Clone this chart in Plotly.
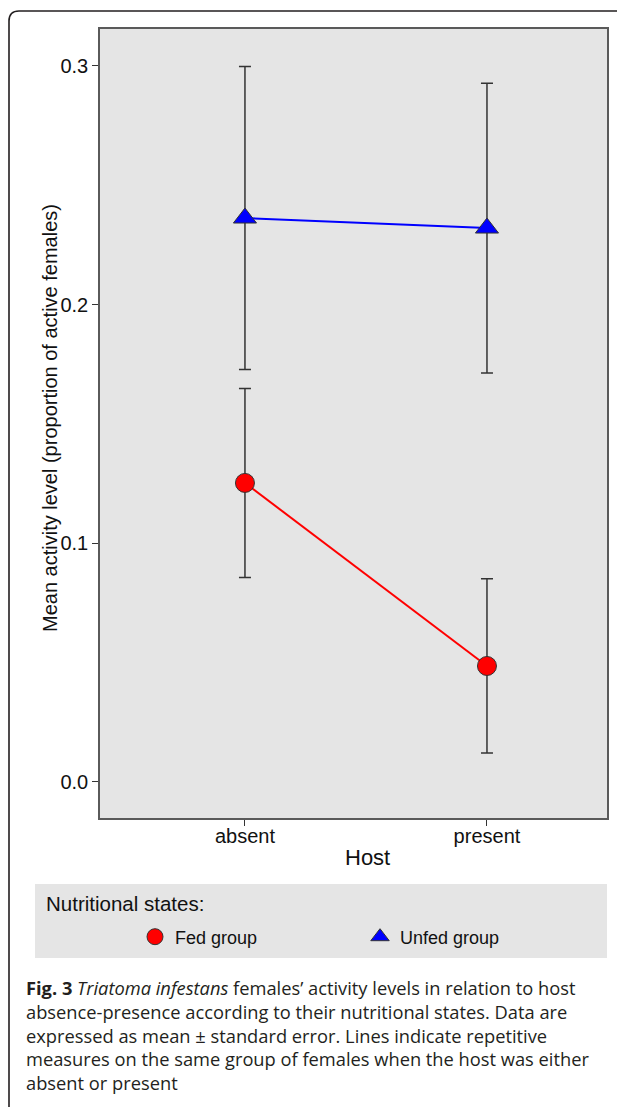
import plotly.graph_objects as go

# ---- data ----
hosts = ["absent", "present"]
fed_mean = [0.1253, 0.0486]
fed_se = [0.0396, 0.0365]
unfed_mean = [0.2363, 0.2321]
unfed_se = [0.0635, 0.0607]
y_ticks = [0.0, 0.1, 0.2, 0.3]
y_ticklabels = ["0.0", "0.1", "0.2", "0.3"]
caption_lines = [
    "<b>Fig. 3</b> <i>Triatoma infestans</i> females’ activity levels in relation to host",
    "absence-presence according to their nutritional states. Data are",
    "expressed as mean ± standard error. Lines indicate repetitive",
    "measures on the same group of females when the host was either",
    "absent or present",
]

# page has an 8px body margin; screen coords below include it
OFF = 8
W, H = 625, 1107
PLOT_L, PLOT_R, PLOT_T, PLOT_B = 100, 607, 29, 818  # screen px
L = PLOT_L - OFF
T = PLOT_T - OFF
R = W - (PLOT_R - OFF)
B = H - (PLOT_B - OFF)
PW, PH = PLOT_R - PLOT_L, PLOT_B - PLOT_T


def px(x):
    return (x - PLOT_L) / PW


def py(y):
    return (PLOT_B - y) / PH


AX_FONT = "Liberation Sans, Arial, sans-serif"
CAP_FONT = "Open Sans, sans-serif"

fig = go.Figure()

# connecting lines
fig.add_trace(go.Scatter(x=hosts, y=fed_mean, mode="lines",
                         line=dict(color="#ff0000", width=2), showlegend=False, hoverinfo="skip"))
fig.add_trace(go.Scatter(x=hosts, y=unfed_mean, mode="lines",
                         line=dict(color="#0000ff", width=2), showlegend=False, hoverinfo="skip"))

# points with error bars
fig.add_trace(go.Scatter(
    x=hosts, y=fed_mean, mode="markers", name="Fed group",
    marker=dict(symbol="circle", size=19, color="#ff0000", line=dict(color="#333333", width=1)),
    error_y=dict(type="data", array=fed_se, visible=True, color="#333333", thickness=1.5, width=6),
))
fig.add_trace(go.Scatter(
    x=hosts, y=unfed_mean, mode="markers", name="Unfed group",
    marker=dict(symbol="triangle-up", size=20, color="#0000ff", line=dict(color="#333333", width=1)),
    error_y=dict(type="data", array=unfed_se, visible=True, color="#333333", thickness=1.5, width=6),
))

shapes = [
    # outer rounded frame
    dict(type="path", xref="paper", yref="paper",
         path=(f"M {px(9)},{py(1112)} L {px(9)},{py(21)} "
               f"Q {px(9)},{py(11)} {px(19)},{py(11)} L {px(640)},{py(11)}"),
         line=dict(color="#231f20", width=1.6)),
    # legend background
    dict(type="rect", xref="paper", yref="paper",
         x0=px(35), x1=px(607), y0=py(958), y1=py(884),
         fillcolor="#e5e5e5", line=dict(width=0), layer="below"),
]

annotations = [
    dict(text="Mean activity level (proportion of active females)", textangle=-90,
         xref="paper", yref="paper", x=px(50), y=py(418), showarrow=False,
         xanchor="center", yanchor="middle", font=dict(family=AX_FONT, size=20, color="#111111")),
    dict(text="Host", xref="paper", yref="paper", x=px(367), y=py(857), showarrow=False,
         xanchor="center", yanchor="middle", font=dict(family=AX_FONT, size=22, color="#111111")),
    dict(text="Nutritional states:", xref="paper", yref="paper", x=px(44), y=py(903),
         showarrow=False, xanchor="left", yanchor="middle",
         font=dict(family=AX_FONT, size=20.5, color="#111111")),
    dict(text="<br>".join(caption_lines), xref="paper", yref="paper", x=px(24),
         y=py(973), showarrow=False, xanchor="left", yanchor="top", align="left",
         font=dict(family=CAP_FONT, size=18.3, color="#231f20")),
]

fig.update_layout(
    width=W, height=H,
    margin=dict(l=L, r=R, t=T, b=B, autoexpand=False),
    paper_bgcolor="white",
    plot_bgcolor="#e5e5e5",
    shapes=shapes,
    annotations=annotations,
    showlegend=True,
    legend=dict(orientation="h", x=px(135), y=py(937), xanchor="left", yanchor="middle",
                bgcolor="rgba(0,0,0,0)", font=dict(family=AX_FONT, size=18, color="#111111"),
                entrywidth=180, entrywidthmode="pixels", itemclick=False, itemdoubleclick=False),
    xaxis=dict(type="category", range=[-0.599, 1.496], showgrid=False, zeroline=False,
               showline=True, mirror=True, linecolor="#5a5a5a", linewidth=1.5,
               ticks="outside", ticklen=6, tickwidth=1.3, tickcolor="#333333",
               ticklabelstandoff=-7,
               tickfont=dict(family=AX_FONT, size=20, color="#111111")),
    yaxis=dict(range=[-0.0151, 0.3155], showgrid=False, zeroline=False,
               showline=True, mirror=True, linecolor="#5a5a5a", linewidth=1.5,
               tickvals=y_ticks, ticktext=y_ticklabels,
               ticks="outside", ticklen=6, tickwidth=1.3, tickcolor="#333333",
               tickfont=dict(family=AX_FONT, size=20, color="#111111")),
)

fig.write_html("out.html")
